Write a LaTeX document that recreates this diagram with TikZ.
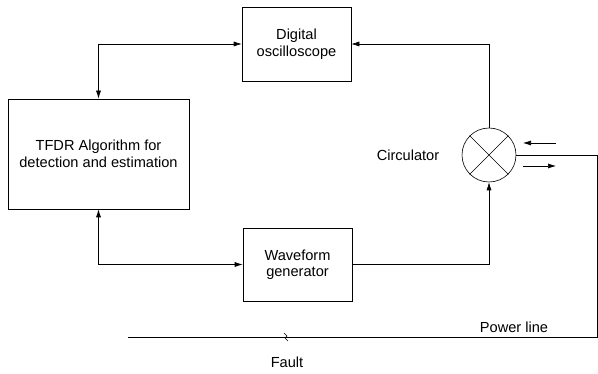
\documentclass[tikz,border=0pt]{standalone}
\usepackage{fontspec}
\setmainfont{Liberation Sans}
\usetikzlibrary{%
  positioning
 ,arrows
 ,arrows.meta
 ,calc
}

\begin{document}
\begin{tikzpicture}[x=1pt,y=-1pt,line width=0.6pt,%
  every node/.style={inner sep=1pt,font=\fontsize{14.6}{16.5}\selectfont},%
  >={Latex[length=8pt,width=5pt]}]
\tikzstyle{blk} = [draw,align=center,inner sep=0pt]
\useasboundingbox (0,0) rectangle (598,374);
\node[blk,minimum width=109pt,minimum height=74pt](osc)at(296.5,44){Digital\\oscilloscope};
\node[blk,minimum width=181pt,minimum height=110pt](tfdr)at(98.5,154){TFDR Algorithm for\\detection and estimation};
\node[blk,minimum width=109pt,minimum height=73pt](wave)at(297.5,264.5){Waveform\\generator};
\node[draw,circle,minimum size=54pt,inner sep=0pt](circ)at(489,155){};
\draw (circ.45)--(circ.225) (circ.135)--(circ.315);
\node(circlbl)at(408,155){Circulator};
% loops between the blocks
\draw[<->](tfdr.north)|-(osc.west);
\draw[<->](tfdr.south)|-(wave.west);
\draw[->](wave.east)-|(circ.south);
\draw[->](circ.north)|-(osc.east);
% power line
\coordinate(bend)at(597,337);
\coordinate(plend)at(128,337);
\draw(circ.east)-|(bend)--(plend);
\node(pwr)at(514,327){Power line};
\coordinate(fault)at(286,337);
\draw($(fault)+(-2,-4)$)--($(fault)+(1,-1)$)--($(fault)+(-1,1)$)--($(fault)+(2,4)$);
\node(flt)at(287,362){Fault};
% signal directions
\coordinate(ina)at(556,143);
\coordinate(inb)at(523,143);
\coordinate(outa)at(523,166);
\coordinate(outb)at(556,166);
\draw[->](ina)--(inb);
\draw[->](outa)--(outb);
\end{tikzpicture}
\end{document}
